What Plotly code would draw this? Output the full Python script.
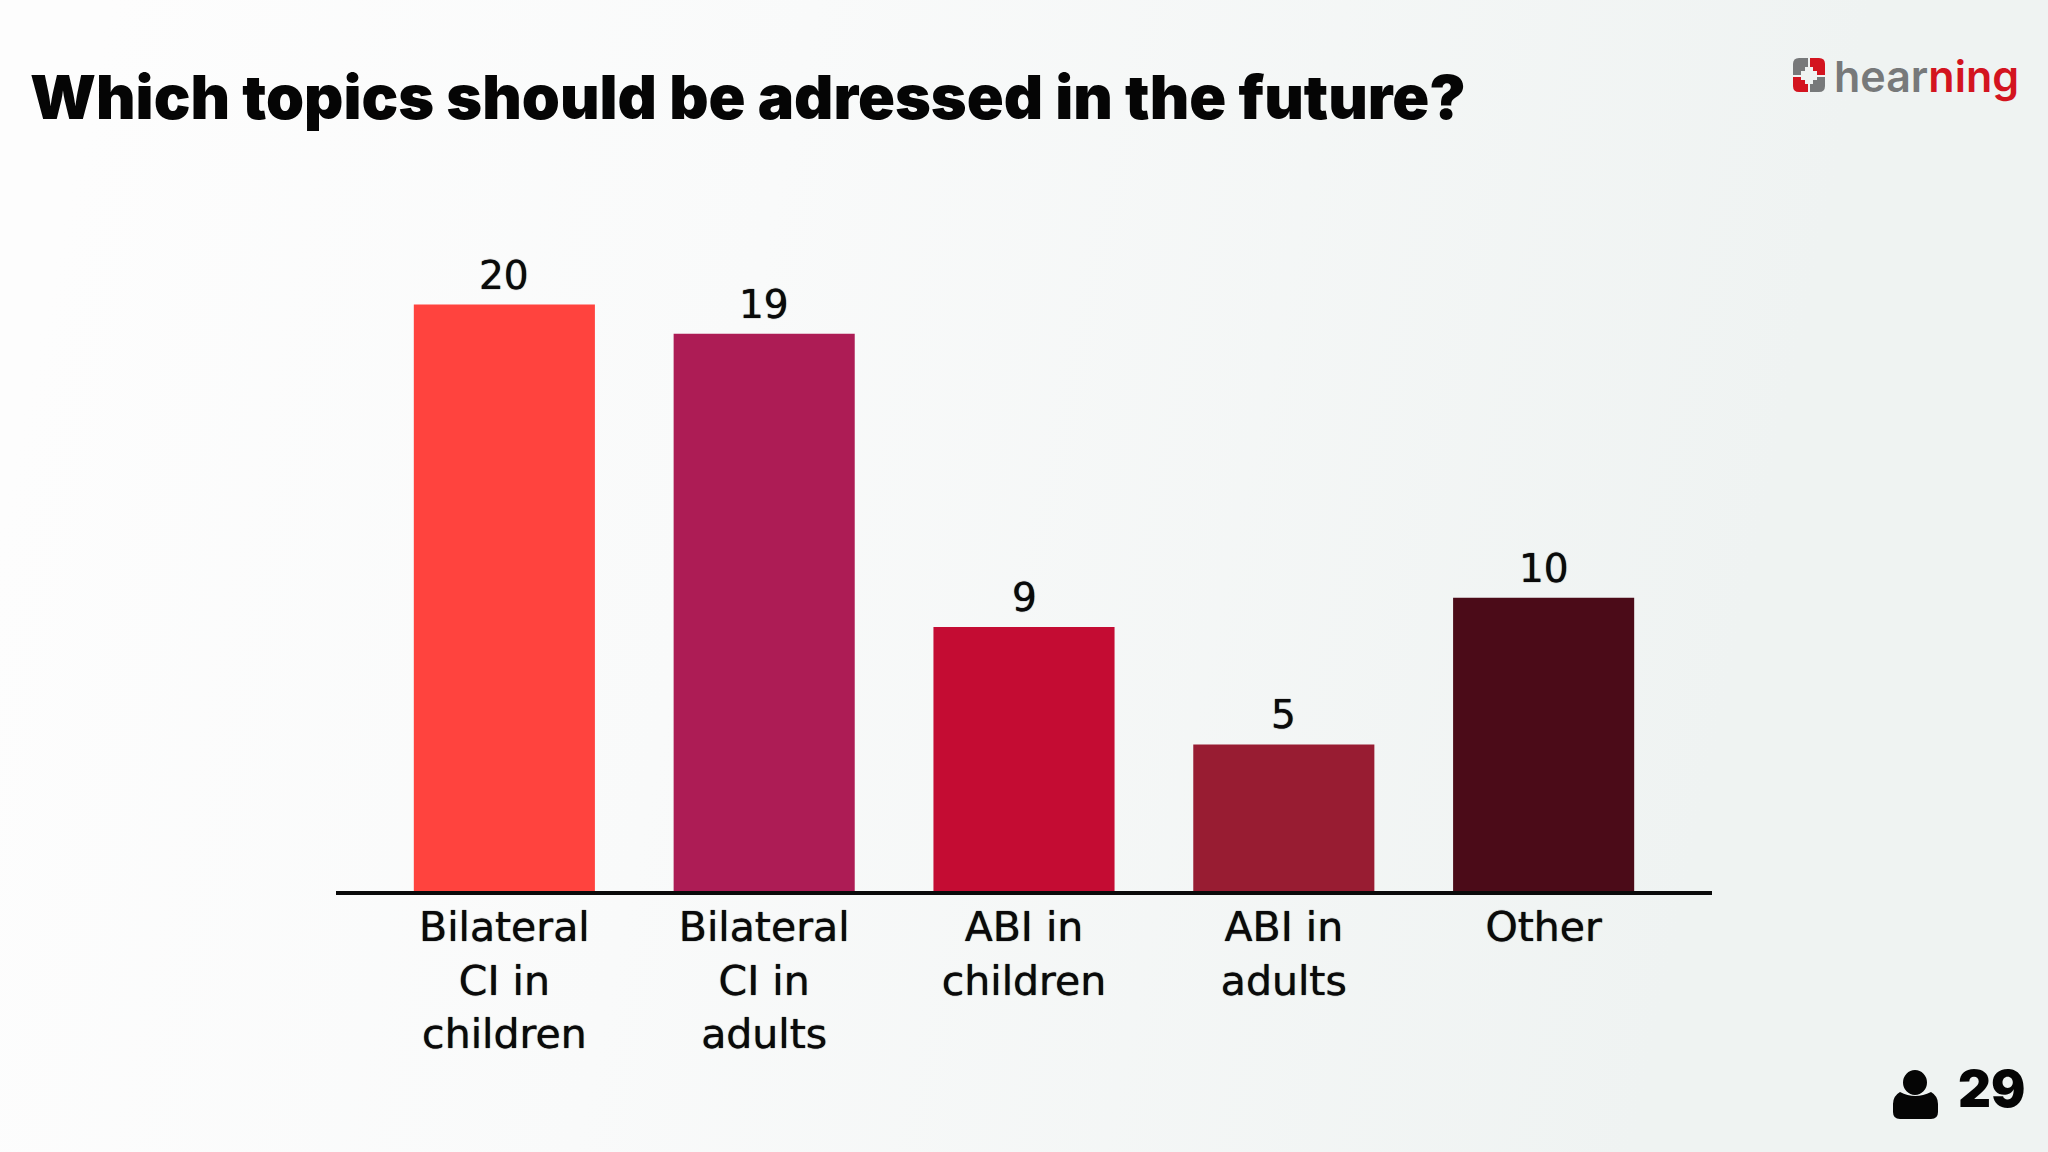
"""Survey bar chart: topics to address in the future."""

import base64

import plotly.graph_objects as go

categories = ["Bilateral<br>CI in<br>children", "Bilateral<br>CI in<br>adults", "ABI in<br>children", "ABI in<br>adults", "Other"]
votes = [20, 19, 9, 5, 10]
bar_colors = ["#FF433E", "#AD1C55", "#C40C33", "#981C32", "#4B0B18"]
title_text = "Which topics should be adressed in the future?"
participants = "29"

FONT = "DejaVu Sans"
TITLE_FONT = "Inter"
W, H = 2048, 1152
GREY = "#77797a"
RED = "#d3141f"
INK = "#050505"
LOGO_BG = "#eff3f2"
# slight smear thickens the book weight towards the medium look of the slide
THICKEN = "0 0 1px #0a0a0a"

# soft grey wash behind everything
bg_svg = f"""<svg xmlns="http://www.w3.org/2000/svg" width="{W}" height="{H}">
<defs><linearGradient id="g" x1="0" y1="0.45" x2="0.85" y2="0.55">
<stop offset="0" stop-color="#fdfdfd"/>
<stop offset="0.4" stop-color="#f9fafa"/>
<stop offset="1" stop-color="#eff3f2"/>
</linearGradient></defs>
<rect width="{W}" height="{H}" fill="url(#g)"/></svg>"""
bg_uri = "data:image/svg+xml;base64," + base64.b64encode(bg_svg.encode()).decode()


# helpers work in page pixels, turned into container fractions
def sx(v):
    return (v - 336) / 1376


def sy(v):
    return (891 - v) / 651


def page_path(points):
    """Build an SVG path from (command, px, py, ...) tuples given in page pixels."""
    parts = []
    for p in points:
        coords = []
        for i in range(1, len(p), 2):
            coords.append(f"{sx(p[i])} {sy(p[i + 1])}")
        parts.append(p[0] + " " + " ".join(coords))
    return " ".join(parts) + " Z"


def add_page_shape(shape_type="path", color=INK, **kw):
    fig.add_shape(type=shape_type, xref="paper", yref="paper", fillcolor=color, line_width=0, **kw)


fig = go.Figure()

fig.add_trace(
    go.Bar(
        x=categories,
        y=votes,
        width=0.697,
        marker=dict(color=bar_colors, line_width=0),
        cliponaxis=False,
    )
)

# value labels sit a little above each bar
for cat, v in zip(categories, votes):
    fig.add_annotation(
        x=cat, y=v, text=str(v), showarrow=False, yanchor="bottom", yshift=5,
        font=dict(family=FONT, size=39, color="#0a0a0a", shadow=THICKEN),
    )

fig.update_layout(
    width=W,
    height=H,
    margin=dict(l=336, r=336, t=240, b=261),
    paper_bgcolor="#f7f8f8",
    plot_bgcolor="rgba(0,0,0,0)",
    showlegend=False,
    images=[
        dict(
            source=bg_uri, xref="paper", yref="paper", x=sx(0), y=sy(0),
            sizex=W / 1376, sizey=H / 651, sizing="stretch", layer="below",
            xanchor="left", yanchor="top",
        )
    ],
)

fig.update_xaxes(
    range=[-0.648, 4.648],
    showline=True,
    linecolor="#0a0a0a",
    linewidth=4,
    showgrid=False,
    ticks="",
    tickangle=0,
    ticklabelstandoff=-3,
    tickfont=dict(family=FONT, size=41, color="#0a0a0a", shadow=THICKEN),
)
fig.update_yaxes(range=[0, 22.2], visible=False)

fig.add_annotation(
    xref="paper", yref="paper", x=sx(28), y=sy(97), xanchor="left", yanchor="middle",
    text=title_text, showarrow=False,
    font=dict(family=TITLE_FONT, size=61, color=INK, weight=900),
)

# logo
fig.add_annotation(
    xref="paper", yref="paper", x=sx(1832), y=sy(76), xanchor="left", yanchor="middle",
    text=f'<span style="color:{GREY}">hear</span><span style="color:{RED}">ning</span>',
    showarrow=False, font=dict(family=TITLE_FONT, size=43, weight=600),
)
add_page_shape(color=GREY, path=page_path([
    ("M", 1793, 75), ("L", 1793, 64), ("Q", 1793, 58, 1799, 58), ("L", 1808, 58), ("L", 1808, 75),
]))
add_page_shape(color=RED, path=page_path([
    ("M", 1810, 58), ("L", 1819, 58), ("Q", 1825, 58, 1825, 64), ("L", 1825, 75), ("L", 1810, 75),
]))
add_page_shape(color=RED, path=page_path([
    ("M", 1793, 77), ("L", 1808, 77), ("L", 1808, 92), ("L", 1799, 92), ("Q", 1793, 92, 1793, 86),
]))
add_page_shape(color=GREY, path=page_path([
    ("M", 1810, 77), ("L", 1825, 77), ("L", 1825, 86), ("Q", 1825, 92, 1819, 92), ("L", 1810, 92),
]))
add_page_shape("rect", LOGO_BG, x0=sx(1801), x1=sx(1817), y0=sy(80), y1=sy(71))
add_page_shape("rect", LOGO_BG, x0=sx(1805), x1=sx(1813), y0=sy(84), y1=sy(67))

# participant count
add_page_shape("circle", x0=sx(1903), x1=sx(1927), y0=sy(1095), y1=sy(1070))
add_page_shape(path=page_path([
    ("M", 1900, 1092), ("Q", 1893, 1096, 1893, 1104), ("L", 1893, 1112), ("Q", 1893, 1119, 1900, 1119),
    ("L", 1931, 1119), ("Q", 1938, 1119, 1938, 1112), ("L", 1938, 1104), ("Q", 1938, 1096, 1931, 1092),
    ("Q", 1915, 1100, 1900, 1092),
]))
fig.add_annotation(
    xref="paper", yref="paper", x=sx(1956), y=sy(1088), xanchor="left", yanchor="middle",
    text=participants, showarrow=False,
    font=dict(family=TITLE_FONT, size=51, color=INK, weight=900),
)

fig.write_html("out.html", config={"displayModeBar": False}, post_script="document.body.style.margin='0';")
